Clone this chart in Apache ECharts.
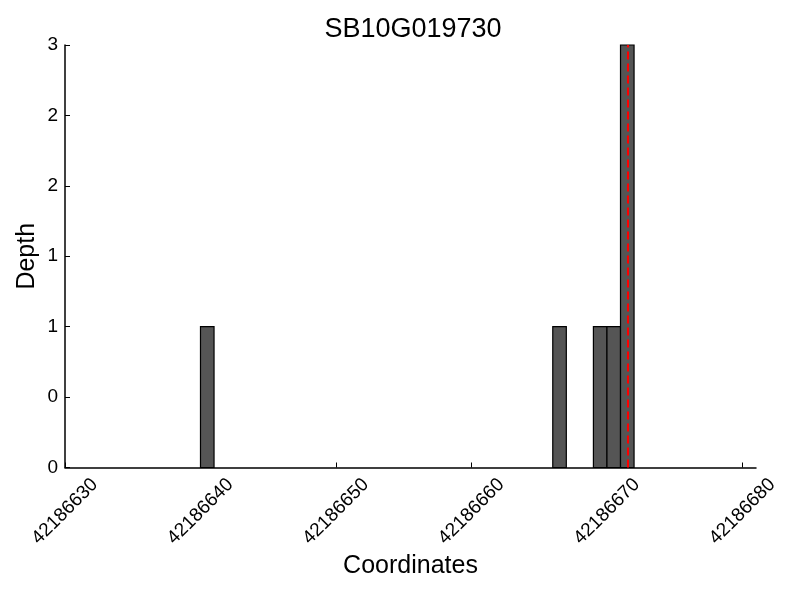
<!DOCTYPE html>
<html>
<head>
<meta charset="utf-8">
<script src="https://cdn.jsdelivr.net/npm/echarts@6/dist/echarts.min.js"></script>
<style>html,body{margin:0;padding:0;background:#fff}#c{width:800px;height:600px}</style>
</head>
<body>
<div id="c"></div>
<script>
// Data
const binStarts = [42186640, 42186666, 42186669, 42186670, 42186671];
const binEnds   = [42186641, 42186667, 42186670, 42186671, 42186672];
const depths    = [1, 1, 1, 1, 3];
const markerPos = 42186671.5;
const xTicks = [42186630, 42186640, 42186650, 42186660, 42186670, 42186680];
const yTicks = [0, 0.5, 1, 1.5, 2, 2.5, 3];
const yTickLabels = ['0', '0', '1', '1', '2', '2', '3'];

const barData = binStarts.map((s, i) => [s, binEnds[i], depths[i]]);
const FONT = 'Liberation Sans';

const chart = echarts.init(document.getElementById('c'), null, {renderer: 'canvas'});
chart.setOption({
  animation: false,
  backgroundColor: '#ffffff',
  title: {
    text: 'SB10G019730',
    left: 408, top: 11, textAlign: 'center',
    textStyle: {fontFamily: FONT, fontSize: 27, fontWeight: 'normal', color: '#000'}
  },
  grid: {left: 65, right: 44, top: 45, bottom: 132.5, containLabel: false, outerBoundsMode: 'none'},
  xAxis: {
    type: 'value', min: 42186630, max: 42186681,
    name: 'Coordinates', nameLocation: 'middle', nameGap: 86, nameMoveOverlap: false,
    nameTextStyle: {fontFamily: FONT, fontSize: 25, color: '#000'},
    axisLine: {show: true, onZero: false, lineStyle: {color: '#000', width: 1.5}},
    axisTick: {show: true, inside: true, length: 5, customValues: xTicks, lineStyle: {color: '#000', width: 1}},
    axisLabel: {customValues: xTicks, rotate: 45, align: 'center', verticalAlign: 'middle',
      fontFamily: FONT, fontSize: 19, color: '#000', margin: 44,
      formatter: v => String(Math.round(v))},
    splitLine: {show: false}
  },
  yAxis: {
    type: 'value', min: 0, max: 3,
    name: 'Depth', nameLocation: 'middle', nameGap: 25, nameMoveOverlap: false,
    nameTextStyle: {fontFamily: FONT, fontSize: 25, color: '#000'},
    axisLine: {show: true, lineStyle: {color: '#000', width: 1.5}},
    axisTick: {show: true, inside: true, length: 5, customValues: yTicks, lineStyle: {color: '#000', width: 1}},
    axisLabel: {customValues: yTicks, fontFamily: FONT, fontSize: 19, color: '#000', margin: 7,
      formatter: v => yTickLabels[yTicks.indexOf(v)] !== undefined ? yTickLabels[yTicks.indexOf(v)] : ''},
    splitLine: {show: false}
  },
  series: [{
    type: 'custom',
    data: barData,
    encode: {x: [0, 1], y: 2},
    renderItem: function (params, api) {
      const p0 = api.coord([api.value(0), api.value(2)]);
      const p1 = api.coord([api.value(1), 0]);
      return {
        type: 'rect',
        shape: {x: p0[0], y: p0[1], width: p1[0] - p0[0], height: p1[1] - p0[1]},
        style: {fill: '#555555', stroke: '#000000', lineWidth: 1.2}
      };
    },
    markLine: {
      silent: true, symbol: 'none', label: {show: false},
      lineStyle: {color: '#ff0000', type: [8, 4], width: 2},
      data: [{xAxis: markerPos}]
    },
    z: 2
  }]
});
</script>
</body>
</html>
